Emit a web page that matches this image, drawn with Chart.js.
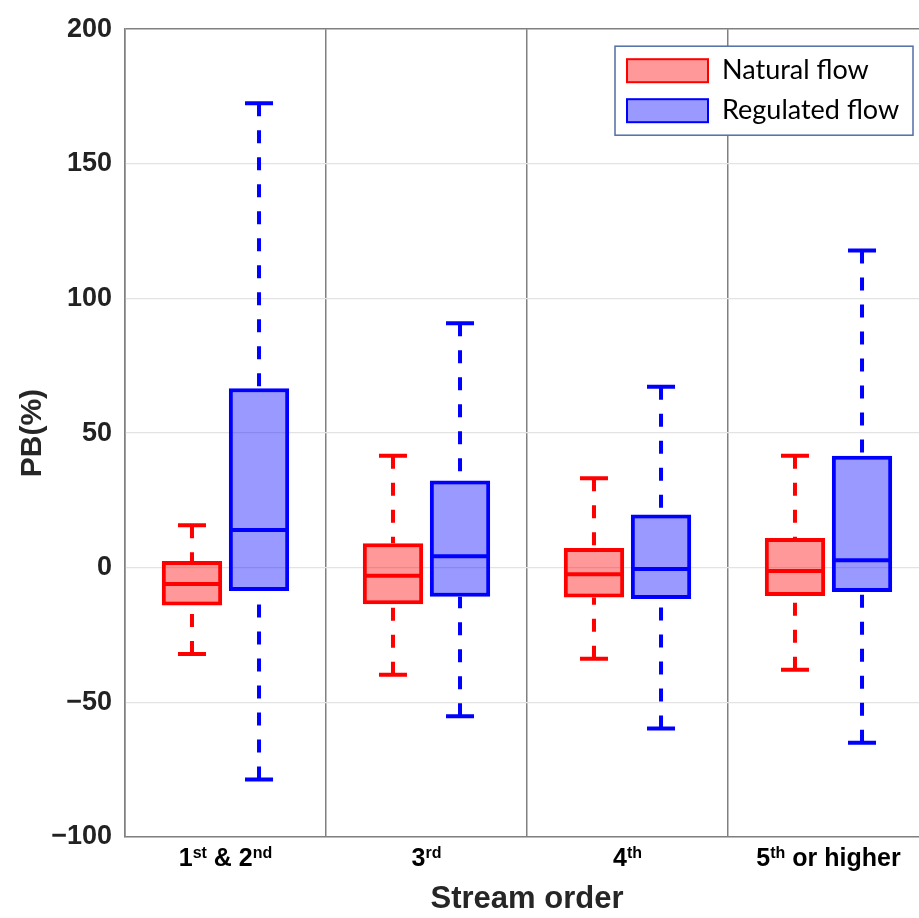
<!DOCTYPE html>
<html>
<head>
<meta charset="utf-8">
<title>PB by stream order</title>
<script src="https://cdn.jsdelivr.net/npm/chart.js@4.4.1/dist/chart.umd.min.js"></script>
<style>
  html, body { margin: 0; padding: 0; background: #fff; overflow: hidden; }
  #wrap { width: 929px; height: 918px; position: relative; }
</style>
</head>
<body>
<div id="wrap"><canvas id="chart"></canvas></div>
<script>
// categories (^ marks a superscript part)
const categories = ['1^st & 2^nd', '3^rd', '4^th', '5^th or higher'];
const yTicks = [-100, -50, 0, 50, 100, 150, 200];

// Natural flow
const natMin = [-32, -39.7, -33.8, -37.9];
const natQ1  = [-14, -13.6, -11.1, -10.5];
const natMed = [-6, -3, -2.4, -1.2];
const natQ3  = [2.5, 9.1, 7.3, 11];
const natMax = [15.8, 41.6, 33.2, 41.6];

// Regulated flow
const regMin = [-78.6, -55.2, -59.7, -65];
const regQ1  = [-8.6, -10.8, -11.6, -9];
const regMed = [14, 4.3, -0.5, 2.8];
const regQ3  = [66.7, 32.4, 19.8, 41.6];
const regMax = [172.5, 90.8, 67.2, 117.8];

const stats = [
  { min: natMin, q1: natQ1, med: natMed, q3: natQ3, max: natMax },
  { min: regMin, q1: regQ1, med: regMed, q3: regQ3, max: regMax }
];

const FONT = "'Liberation Sans', Arial, sans-serif";

// medians, dashed whiskers and caps on top of the floating bars
const boxParts = {
  id: 'boxParts',
  afterDatasetsDraw(chart) {
    const { ctx, scales: { y } } = chart;
    chart.data.datasets.forEach((ds, i) => {
      const st = stats[i];
      chart.getDatasetMeta(i).data.forEach((bar, j) => {
        const x = bar.x, half = bar.width / 2;
        const pMin = y.getPixelForValue(st.min[j]);
        const pQ1 = y.getPixelForValue(st.q1[j]);
        const pMed = y.getPixelForValue(st.med[j]);
        const pQ3 = y.getPixelForValue(st.q3[j]);
        const pMax = y.getPixelForValue(st.max[j]);
        ctx.save();
        ctx.strokeStyle = ds.borderColor;
        ctx.lineWidth = 4;
        ctx.beginPath();
        ctx.moveTo(x - half + 1, pMed);
        ctx.lineTo(x + half - 1, pMed);
        ctx.stroke();

        ctx.setLineDash([13, 14]);
        ctx.beginPath();
        ctx.moveTo(x, pMax);
        ctx.lineTo(x, pQ3);
        ctx.stroke();
        ctx.beginPath();
        ctx.moveTo(x, pMin);
        ctx.lineTo(x, pQ1);
        ctx.stroke();

        ctx.setLineDash([]);
        ctx.beginPath();
        ctx.moveTo(x - 14, pMax);
        ctx.lineTo(x + 14, pMax);
        ctx.moveTo(x - 14, pMin);
        ctx.lineTo(x + 14, pMin);
        ctx.stroke();
        ctx.restore();
      });
    });
  }
};

// category labels with superscripts
const xLabels = {
  id: 'xLabels',
  afterDraw(chart) {
    const { ctx, chartArea, scales: { x } } = chart;
    const big = 'bold 25px ' + FONT, small = 'bold 16px ' + FONT;
    const base = chartArea.bottom + 29;
    ctx.save();
    ctx.fillStyle = '#000';
    ctx.textBaseline = 'alphabetic';
    ctx.textAlign = 'left';
    categories.forEach((lab, i) => {
      const parts = lab.split(/(\^[a-z]+)/).filter(s => s.length);
      let total = 0;
      parts.forEach(p => {
        ctx.font = p[0] === '^' ? small : big;
        total += ctx.measureText(p[0] === '^' ? p.slice(1) : p).width;
      });
      let cx = x.getPixelForValue(i) - total / 2;
      parts.forEach(p => {
        const sup = p[0] === '^';
        const txt = sup ? p.slice(1) : p;
        ctx.font = sup ? small : big;
        ctx.fillText(txt, cx, sup ? base - 8 : base);
        cx += ctx.measureText(txt).width;
      });
    });
    ctx.restore();
  }
};

// boxed legend in the top right corner of the plot
const boxLegend = {
  id: 'boxLegend',
  afterDraw(chart) {
    const { ctx, chartArea } = chart;
    const right = chartArea.right - 16, top = chartArea.top + 17;
    const w = 298, h = 89;
    ctx.save();
    ctx.fillStyle = '#fff';
    ctx.fillRect(right - w, top, w, h);
    ctx.strokeStyle = '#4f6fa5';
    ctx.lineWidth = 1.5;
    ctx.strokeRect(right - w, top, w, h);
    ctx.font = "27px Lato, 'Open Sans', sans-serif";
    ctx.textBaseline = 'middle';
    chart.data.datasets.forEach((ds, i) => {
      const sy = top + 13 + i * 40;
      ctx.fillStyle = ds.backgroundColor;
      ctx.fillRect(right - w + 12, sy, 81, 23);
      ctx.strokeStyle = ds.borderColor;
      ctx.lineWidth = 2;
      ctx.strokeRect(right - w + 12, sy, 81, 23);
      ctx.fillStyle = '#000';
      ctx.fillText(ds.label, right - w + 107, sy + 11);
    });
    ctx.restore();
  }
};

const ctx = document.getElementById('chart').getContext('2d');
new Chart(ctx, {
  type: 'bar',
  data: {
    labels: categories,
    datasets: [
      {
        label: 'Natural flow',
        data: natQ1.map((v, i) => [v, natQ3[i]]),
        backgroundColor: 'rgba(255, 0, 0, 0.4)',
        borderColor: '#ff0000',
        borderWidth: 4,
        borderSkipped: false,
        categoryPercentage: 0.667,
        barPercentage: 0.9
      },
      {
        label: 'Regulated flow',
        data: regQ1.map((v, i) => [v, regQ3[i]]),
        backgroundColor: 'rgba(0, 0, 255, 0.4)',
        borderColor: '#0000ff',
        borderWidth: 4,
        borderSkipped: false,
        categoryPercentage: 0.667,
        barPercentage: 0.9
      }
    ]
  },
  options: {
    responsive: true,
    maintainAspectRatio: false,
    animation: false,
    layout: { padding: { top: 23, right: 0, bottom: 0, left: 0 } },
    plugins: {
      legend: { display: false },
      tooltip: { enabled: false }
    },
    scales: {
      x: {
        grid: { offset: true, color: '#808080', lineWidth: 1.5, drawTicks: false },
        border: { color: '#808080', width: 1.5 },
        ticks: { display: false },
        title: {
          display: true,
          text: 'Stream order',
          color: '#262626',
          font: { family: FONT, size: 31, weight: 'bold', lineHeight: 1.2 },
          padding: { top: 0, bottom: 0 }
        },
        afterFit: s => { s.height = 81; }
      },
      y: {
        min: -100,
        max: 200,
        afterBuildTicks: s => { s.ticks = yTicks.map(v => ({ value: v })); },
        grid: {
          color: c => (c.tick && (c.tick.value === 200)) ? '#808080' : '#e3e3e3',
          lineWidth: c => (c.tick && (c.tick.value === 200)) ? 1.5 : 1.2,
          drawTicks: false
        },
        border: { color: '#808080', width: 1.5 },
        ticks: {
          padding: 13,
          color: '#222',
          font: { family: FONT, size: 27, weight: 'bold' },
          callback: v => v < 0 ? '\u2212' + Math.abs(v) : String(v)
        },
        title: {
          display: true,
          text: 'PB(%)',
          color: '#262626',
          font: { family: FONT, size: 30, weight: 'bold', lineHeight: 1.2 },
          padding: { top: 15, bottom: 0 }
        },
        afterFit: s => { s.width = 125; }
      }
    }
  },
  plugins: [boxParts, xLabels, boxLegend]
});
</script>
</body>
</html>
